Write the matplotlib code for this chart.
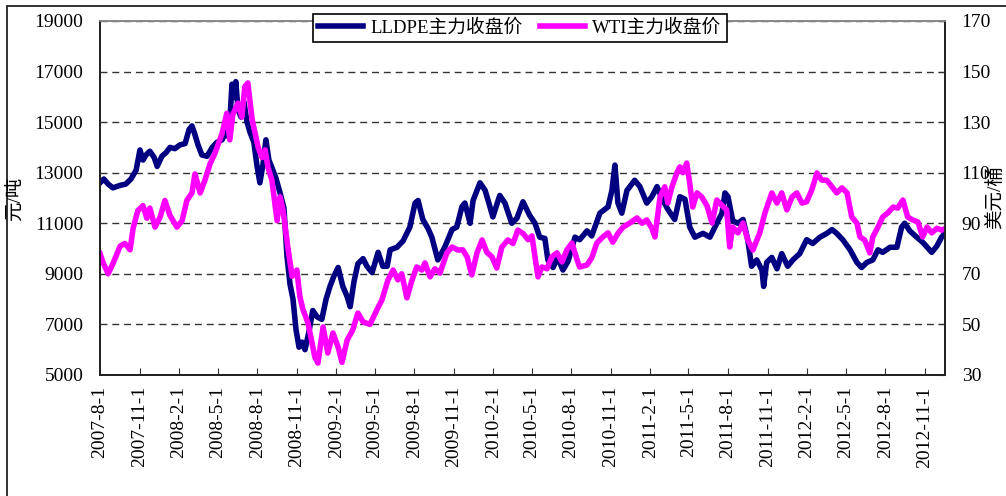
import matplotlib
matplotlib.use('Agg')
import matplotlib.pyplot as plt
import pandas as pd
from matplotlib.patches import Rectangle
from matplotlib.ticker import FixedLocator

plt.rcParams['font.family'] = ['Liberation Serif', 'Noto Sans CJK SC', 'DejaVu Sans']

# LLDPE main contract close (yuan/ton), left axis
lldpe_dates = ['2007-8-1', '2007-8-10', '2007-8-20', '2007-8-31', '2007-9-17', '2007-9-30', '2007-10-12',
               '2007-10-24', '2007-11-2', '2007-11-9', '2007-11-16', '2007-11-25', '2007-12-5', '2007-12-12',
               '2007-12-23', '2008-1-2', '2008-1-11', '2008-1-22', '2008-2-3', '2008-2-15', '2008-2-24',
               '2008-3-2', '2008-3-9', '2008-3-16', '2008-3-25', '2008-4-6', '2008-4-18', '2008-4-29',
               '2008-5-11', '2008-5-20', '2008-5-27', '2008-6-3', '2008-6-8', '2008-6-12', '2008-6-17',
               '2008-6-24', '2008-7-1', '2008-7-8', '2008-7-15', '2008-7-24', '2008-7-31', '2008-8-7',
               '2008-8-14', '2008-8-21', '2008-8-28', '2008-9-4', '2008-9-13', '2008-9-23', '2008-10-2',
               '2008-10-9', '2008-10-16', '2008-10-23', '2008-10-30', '2008-11-6', '2008-11-13', '2008-11-20',
               '2008-11-29', '2008-12-8', '2008-12-18', '2008-12-29', '2009-1-8', '2009-1-17', '2009-1-26',
               '2009-2-5', '2009-2-16', '2009-2-26', '2009-3-5', '2009-3-14', '2009-3-23', '2009-4-4',
               '2009-4-13', '2009-4-25', '2009-5-9', '2009-5-20', '2009-5-30', '2009-6-6', '2009-6-22',
               '2009-7-6', '2009-7-22', '2009-8-3', '2009-8-10', '2009-8-21', '2009-9-2', '2009-9-11',
               '2009-9-25', '2009-10-11', '2009-10-28', '2009-11-8', '2009-11-20', '2009-11-27', '2009-12-9',
               '2009-12-16', '2009-12-25', '2010-1-1', '2010-1-13', '2010-1-20', '2010-1-31', '2010-2-16',
               '2010-2-28', '2010-3-16', '2010-3-28', '2010-4-11', '2010-4-27', '2010-5-9', '2010-5-20',
               '2010-6-1', '2010-6-8', '2010-6-20', '2010-7-1', '2010-7-13', '2010-7-25', '2010-8-10',
               '2010-8-21', '2010-9-7', '2010-9-18', '2010-10-7', '2010-10-26', '2010-11-4', '2010-11-11',
               '2010-11-18', '2010-11-27', '2010-12-9', '2010-12-27', '2011-1-8', '2011-1-24', '2011-2-5',
               '2011-2-17', '2011-2-28', '2011-3-14', '2011-3-30', '2011-4-11', '2011-4-23', '2011-5-4',
               '2011-5-16', '2011-6-4', '2011-6-20', '2011-7-6', '2011-7-18', '2011-7-25', '2011-8-1',
               '2011-8-12', '2011-8-24', '2011-9-5', '2011-9-16', '2011-9-25', '2011-10-7', '2011-10-19',
               '2011-10-23', '2011-10-30', '2011-11-11', '2011-11-23', '2011-12-4', '2011-12-18', '2011-12-30',
               '2012-1-15', '2012-1-31', '2012-2-14', '2012-3-2', '2012-3-18', '2012-3-30', '2012-4-10',
               '2012-4-24', '2012-5-11', '2012-5-27', '2012-6-7', '2012-6-19', '2012-7-3', '2012-7-15',
               '2012-7-26', '2012-8-12', '2012-8-28', '2012-9-8', '2012-9-15', '2012-9-27', '2012-10-13',
               '2012-10-27', '2012-11-17', '2012-11-29', '2012-12-10', '2012-12-17']
lldpe_price = [12600, 12750, 12550, 12400, 12500, 12550, 12750,
               13100, 13900, 13500, 13700, 13850, 13600, 13250,
               13650, 13800, 14000, 13950, 14100, 14150, 14700,
               14850, 14500, 14100, 13700, 13650, 14000, 14200,
               14300, 14600, 14400, 16500, 16000, 16600, 15500,
               15200, 15800, 15000, 14600, 14200, 13300, 12600,
               13300, 14300, 13500, 13200, 12800, 12200, 11600,
               9700, 8600, 8000, 6800, 6100, 6300, 6000,
               6700, 7550, 7300, 7200, 8000, 8500, 8900,
               9250, 8500, 8100, 7700, 8700, 9400, 9600,
               9300, 9050, 9850, 9300, 9300, 9950, 10050,
               10300, 10850, 11800, 11900, 11150, 10800, 10450,
               9550, 10050, 10750, 10850, 11650, 11800, 11000,
               11900, 12300, 12600, 12300, 11900, 11250, 12100,
               11800, 11000, 11200, 11850, 11300, 11000, 10450,
               10400, 9550, 9250, 9650, 9150, 9500, 10450,
               10350, 10700, 10500, 11400, 11650, 12300, 13300,
               11800, 11400, 12300, 12700, 12450, 11800, 12050,
               12450, 12000, 11550, 11150, 12050, 11950, 10850,
               10450, 10600, 10450, 11000, 11400, 12200, 12050,
               11100, 11000, 11150, 10350, 9300, 9550, 9150,
               8500, 9450, 9650, 9200, 9800, 9300, 9550,
               9800, 10350, 10200, 10450, 10600, 10750, 10600,
               10350, 9950, 9450, 9250, 9450, 9550, 9950,
               9850, 10050, 10050, 10850, 11000, 10700, 10450,
               10250, 9850, 10100, 10450, 10600]

# WTI main contract close (USD/barrel), right axis
wti_dates = ['2007-8-1', '2007-8-8', '2007-8-20', '2007-8-31', '2007-9-17', '2007-9-28', '2007-10-10',
             '2007-10-17', '2007-10-28', '2007-11-9', '2007-11-18', '2007-11-25', '2007-12-7', '2007-12-19',
             '2007-12-30', '2008-1-11', '2008-1-27', '2008-2-8', '2008-2-19', '2008-3-2', '2008-3-9',
             '2008-3-21', '2008-4-1', '2008-4-13', '2008-4-24', '2008-5-11', '2008-5-22', '2008-5-29',
             '2008-6-5', '2008-6-17', '2008-6-26', '2008-7-3', '2008-7-10', '2008-7-20', '2008-7-27',
             '2008-8-3', '2008-8-12', '2008-8-19', '2008-8-26', '2008-9-4', '2008-9-16', '2008-9-23',
             '2008-9-30', '2008-10-11', '2008-10-21', '2008-11-1', '2008-11-8', '2008-11-15', '2008-11-27',
             '2008-12-6', '2008-12-13', '2008-12-20', '2009-1-1', '2009-1-12', '2009-1-24', '2009-2-5',
             '2009-2-14', '2009-2-26', '2009-3-11', '2009-3-23', '2009-4-4', '2009-4-20', '2009-5-6',
             '2009-5-18', '2009-6-1', '2009-6-13', '2009-6-24', '2009-7-3', '2009-7-15', '2009-7-27',
             '2009-8-7', '2009-8-19', '2009-8-26', '2009-9-7', '2009-9-18', '2009-9-30', '2009-10-16',
             '2009-10-28', '2009-11-11', '2009-11-22', '2009-12-2', '2009-12-13', '2009-12-25', '2010-1-6',
             '2010-1-17', '2010-1-29', '2010-2-9', '2010-2-21', '2010-3-7', '2010-3-19', '2010-3-30',
             '2010-4-11', '2010-4-23', '2010-5-2', '2010-5-9', '2010-5-16', '2010-5-25', '2010-6-6',
             '2010-6-17', '2010-6-29', '2010-7-11', '2010-7-22', '2010-8-3', '2010-8-15', '2010-8-21',
             '2010-9-7', '2010-9-18', '2010-9-30', '2010-10-14', '2010-10-26', '2010-11-6', '2010-11-18',
             '2010-11-30', '2010-12-16', '2011-1-1', '2011-1-13', '2011-1-24', '2011-2-5', '2011-2-12',
             '2011-2-24', '2011-3-7', '2011-3-14', '2011-3-23', '2011-4-4', '2011-4-11', '2011-4-18',
             '2011-4-27', '2011-5-4', '2011-5-11', '2011-5-21', '2011-6-1', '2011-6-13', '2011-6-25',
             '2011-7-6', '2011-7-18', '2011-7-29', '2011-8-5', '2011-8-12', '2011-8-24', '2011-9-5',
             '2011-9-16', '2011-9-28', '2011-10-14', '2011-10-26', '2011-11-11', '2011-11-23', '2011-12-4',
             '2011-12-16', '2011-12-28', '2012-1-8', '2012-1-20', '2012-1-31', '2012-2-12', '2012-2-24',
             '2012-3-6', '2012-3-18', '2012-3-30', '2012-4-10', '2012-4-22', '2012-5-4', '2012-5-15',
             '2012-5-27', '2012-6-3', '2012-6-14', '2012-6-26', '2012-7-3', '2012-7-15', '2012-7-26',
             '2012-8-7', '2012-8-19', '2012-8-30', '2012-9-11', '2012-9-22', '2012-10-4', '2012-10-16',
             '2012-10-27', '2012-11-6', '2012-11-17', '2012-11-29', '2012-12-10', '2012-12-17']
wti_price = [78, 74.5, 70, 74, 81, 82, 79.5,
             88, 95, 97, 92, 96, 88.5, 92.5,
             99, 93, 88.5, 91, 99, 102, 109.5,
             102, 107, 113.5, 117.5, 125.5, 133.5, 123,
             133, 137.5, 132, 144, 145.5, 131, 125.5,
             120, 116, 119, 112, 107, 91, 100.5,
             95, 80.5, 69, 71.5, 61, 56, 50.5,
             43, 37, 34.7, 49, 38.7, 46.6, 41,
             35, 43.8, 47.8, 54.5, 51, 50, 55.7,
             59.7, 67.6, 71.5, 67.6, 70, 60.5, 67.6,
             72.7, 71.5, 74.3, 68.8, 72, 70.3, 78.3,
             80.6, 79.4, 79.5, 76.7, 69.6, 78.3, 83.4,
             78.5, 76.7, 72.3, 80.6, 83.4, 82, 87.3,
             86, 83.5, 85, 76.7, 68.8, 72.7, 72,
             76.7, 78.3, 74.7, 79.4, 82.2, 75.5, 72.7,
             73.5, 76.3, 82.2, 84.6, 86.2, 82.5, 86,
             88.5, 90.1, 92.1, 90, 91.3, 88, 84.6,
             100.4, 104.4, 98, 104, 109.9, 112.3, 110,
             113.8, 105.9, 96.4, 102, 100.4, 97, 90.1,
             99.2, 97, 95.3, 80.6, 88.5, 86.2, 90.1,
             83.4, 79.4, 86.2, 94.1, 102, 98, 102,
             95.3, 100.4, 102, 98, 98.5, 103.2, 109.9,
             107.1, 107, 104.4, 102, 104, 102, 92.5,
             90.1, 84.6, 83.4, 78.3, 84.6, 88.5, 92.5,
             94.1, 96.4, 96, 99.2, 92.5, 91.3, 90.5,
             84.6, 88.5, 86.2, 88, 87.3, 87.8]

tick_labels = ['2007-8-1', '2007-11-1', '2008-2-1', '2008-5-1', '2008-8-1', '2008-11-1',
               '2009-2-1', '2009-5-1', '2009-8-1', '2009-11-1', '2010-2-1', '2010-5-1',
               '2010-8-1', '2010-11-1', '2011-2-1', '2011-5-1', '2011-8-1', '2011-11-1',
               '2012-2-1', '2012-5-1', '2012-8-1', '2012-11-1']
left_ticks = [5000, 7000, 9000, 11000, 13000, 15000, 17000, 19000]
right_ticks = [30, 50, 70, 90, 110, 130, 150, 170]

lldpe_x = pd.to_datetime(lldpe_dates, format='%Y-%m-%d')
wti_x = pd.to_datetime(wti_dates, format='%Y-%m-%d')
tick_x = pd.to_datetime(tick_labels, format='%Y-%m-%d')

fig = plt.figure(figsize=(10.06, 4.96), dpi=100)
ax = fig.add_axes([0.0994, 0.244, 0.84, 0.7137])
ax2 = ax.twinx()

l1, = ax.plot(lldpe_x, lldpe_price, color='#000080', lw=4, solid_joinstyle='round', label='LLDPE主力收盘价')
l2, = ax2.plot(wti_x, wti_price, color='#FF00FF', lw=4, solid_joinstyle='round', label='WTI主力收盘价')

ax.set_xlim(pd.Timestamp('2007-8-1'), pd.Timestamp('2012-12-18'))
ax.set_ylim(left_ticks[0], left_ticks[-1])
ax2.set_ylim(right_ticks[0], right_ticks[-1])
ax.yaxis.set_major_locator(FixedLocator(left_ticks))
ax2.yaxis.set_major_locator(FixedLocator(right_ticks))

ax.xaxis.set_major_locator(FixedLocator(matplotlib.dates.date2num(tick_x)))
ax.set_xticklabels(tick_labels, rotation=90)

ax.grid(axis='y', color='#333333', ls=(0, (5, 3.5)), lw=1)
ax.set_axisbelow(True)

ax.tick_params(axis='x', direction='in', length=5, labelsize=14, pad=8, color='#333333')
ax.tick_params(axis='y', direction='in', length=0, labelsize=14, pad=12)
ax2.tick_params(axis='y', direction='in', length=5, labelsize=14, pad=12, color='#333333')

for a in (ax, ax2):
    for s in a.spines.values():
        s.set_color('#222222')
        s.set_linewidth(1.3)
    a.spines['top'].set_color('#888888')

fig.text(15 / 1006, 0.6, '元/吨', rotation=90, ha='center', va='center', fontsize=14)
fig.text(995 / 1006, 0.603, '美元/桶', rotation=90, ha='center', va='center', fontsize=14)

leg = ax2.legend(handles=[l1, l2], loc='center', bbox_to_anchor=(0.497, 0.98), ncol=2,
                 fontsize=13.5, frameon=True, fancybox=False, framealpha=1, edgecolor='black',
                 handlelength=2.4, columnspacing=0.9, handletextpad=0.4, borderpad=0.3,
                 borderaxespad=0)
leg.get_frame().set_linewidth(1.2)

fig.patches.append(Rectangle((7 / 1006, -0.1), 1.2, 1.1 - 6 / 496, transform=fig.transFigure,
                             fill=False, ec='#222222', lw=1.3))

fig.savefig('out.png', dpi=100)
